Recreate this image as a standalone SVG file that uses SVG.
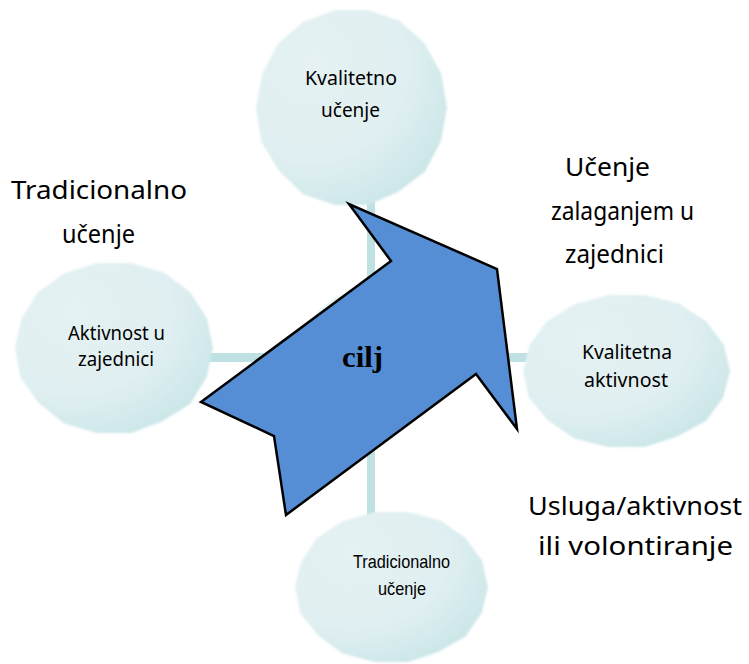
<svg xmlns="http://www.w3.org/2000/svg" xmlns:xlink="http://www.w3.org/1999/xlink" width="749" height="664" viewBox="0 0 749 664">
<defs>
<radialGradient id="g" cx="0.3" cy="0.28" r="1" fx="0.3" fy="0.28">
<stop offset="0" stop-color="#e5f2f3"/>
<stop offset="0.5" stop-color="#e0eff1"/>
<stop offset="0.8" stop-color="#cbe6e8"/>
<stop offset="1" stop-color="#b3dadf"/>
</radialGradient>
<filter id="soft" x="-5%" y="-5%" width="110%" height="110%">
<feGaussianBlur stdDeviation="0.8"/>
</filter>
<polygon id="blob" points="1,0 0.935,0.340 0.770,0.646 0.49,0.85 0.174,0.985 -0.174,0.985 -0.505,0.875 -0.760,0.638 -0.945,0.344 -1,0 -0.935,-0.340 -0.770,-0.646 -0.5,-0.866 -0.174,-0.985 0.174,-0.985 0.505,-0.875 0.768,-0.645 0.940,-0.342"/>
</defs>
<style>
.node{fill:url(#g);}
.line{fill:#bfe1e3;}
.big{font-family:"Noto Sans","Open Sans",sans-serif;font-size:25px;fill:#000;}
.sm{font-family:"Noto Sans","Open Sans",sans-serif;font-size:19px;fill:#000;}
.nar{font-family:"Liberation Sans",Arial,sans-serif;font-size:18.5px;fill:#000;}
.arrow{fill:#558ed5;stroke:#000;stroke-width:2.5;stroke-linejoin:miter;}
.cilj{font-family:"Liberation Serif","Times New Roman",serif;font-weight:bold;font-size:30px;fill:#000;}
</style>
<rect width="749" height="664" fill="#fff"/>
<g id="connectors">
<rect class="line" x="367" y="200" width="8" height="315"/>
<rect class="line" x="205" y="353" width="325" height="9"/>
</g>
<g id="center">
<g filter="url(#soft)"><use xlink:href="#blob" class="node" transform="translate(370,357) scale(70,68)"/></g>
</g>
<g id="kvalitetno-ucenje">
<g filter="url(#soft)"><use xlink:href="#blob" class="node" transform="translate(351.5,107.5) scale(95.5,99)"/></g>
<text class="sm" x="305" y="85" textLength="92" lengthAdjust="spacingAndGlyphs">Kvalitetno</text>
<text class="sm" x="321" y="117" textLength="59" lengthAdjust="spacingAndGlyphs">učenje</text>
</g>
<g id="aktivnost-u-zajednici">
<g filter="url(#soft)"><use xlink:href="#blob" class="node" transform="translate(114,348) scale(99,86.3)"/></g>
<text class="sm" x="68" y="340" textLength="97" lengthAdjust="spacingAndGlyphs">Aktivnost u</text>
<text class="sm" x="78" y="366" textLength="76" lengthAdjust="spacingAndGlyphs">zajednici</text>
</g>
<g id="kvalitetna-aktivnost">
<g filter="url(#soft)"><use xlink:href="#blob" class="node" transform="translate(626.5,371) scale(103.5,77.2)"/></g>
<text class="sm" x="582" y="359" textLength="90" lengthAdjust="spacingAndGlyphs">Kvalitetna</text>
<text class="sm" x="584" y="387" textLength="84" lengthAdjust="spacingAndGlyphs">aktivnost</text>
</g>
<g id="tradicionalno-ucenje">
<g filter="url(#soft)"><use xlink:href="#blob" class="node" transform="translate(391.5,587) scale(96.5,76.1)"/></g>
<text class="nar" x="353" y="568" textLength="97" lengthAdjust="spacingAndGlyphs">Tradicionalno</text>
<text class="nar" x="378" y="595" textLength="48" lengthAdjust="spacingAndGlyphs">učenje</text>
</g>
<g id="cilj">
<polygon class="arrow" points="349,204 391,261 201,402 274,436 286,515 476,374 517,429 497,269"/>
<text class="cilj" x="342" y="367" textLength="41" lengthAdjust="spacingAndGlyphs">cilj</text>
</g>
<g id="labels">
<text class="big" x="11" y="199" textLength="176" lengthAdjust="spacingAndGlyphs">Tradicionalno</text>
<text class="big" x="62" y="243" textLength="73" lengthAdjust="spacingAndGlyphs">učenje</text>
<text class="big" x="565" y="176" textLength="85" lengthAdjust="spacingAndGlyphs">Učenje</text>
<text class="big" x="551" y="220" textLength="143" lengthAdjust="spacingAndGlyphs">zalaganjem u</text>
<text class="big" x="565" y="263" textLength="99" lengthAdjust="spacingAndGlyphs">zajednici</text>
<text class="big" x="528" y="515" textLength="214" lengthAdjust="spacingAndGlyphs">Usluga/aktivnost</text>
<text class="big" x="538" y="555" textLength="195" lengthAdjust="spacingAndGlyphs">ili volontiranje</text>
</g>
</svg>
